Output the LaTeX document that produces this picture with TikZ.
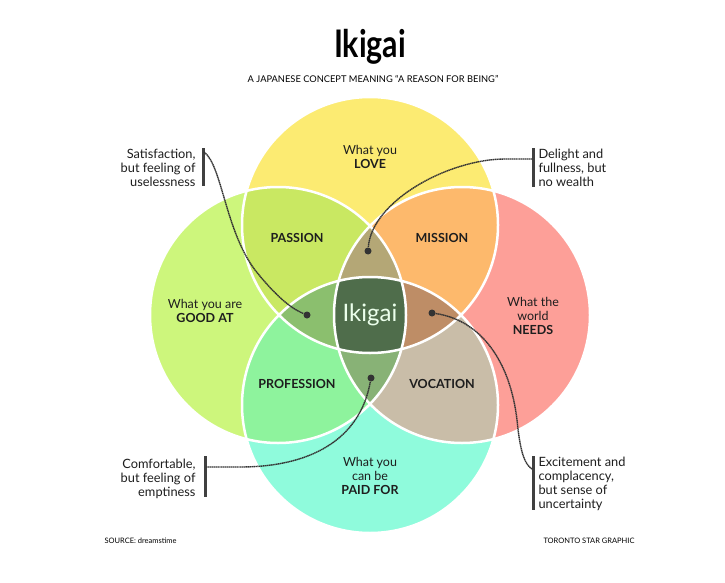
\documentclass[tikz,border=0pt]{standalone}
\usepackage{fontspec}
\setmainfont{Lato}
\newfontfamily\headfont[FakeStretch=0.8]{Lato}
\definecolor{cLove}{HTML}{FCEB72}
\definecolor{cGood}{HTML}{CDF67C}
\definecolor{cNeeds}{HTML}{FD9F98}
\definecolor{cPaid}{HTML}{8FFBDC}
\definecolor{cPassion}{HTML}{C9E862}
\definecolor{cMission}{HTML}{FDB96C}
\definecolor{cProfession}{HTML}{8EF39D}
\definecolor{cVocation}{HTML}{C9BDA8}
\definecolor{cUpper}{HTML}{B4A776}
\definecolor{cLeft}{HTML}{8BBF6E}
\definecolor{cRight}{HTML}{BE8D66}
\definecolor{cLower}{HTML}{88B276}
\definecolor{cCore}{HTML}{4F6D4B}
\definecolor{cInk}{HTML}{1E1E1E}
\def\rad{128pt}

\begin{document}
\begin{tikzpicture}[x=1pt, y=-1pt,
  ring/.style={draw=white, line width=2.5pt},
  goaltext/.style={align=center, font=\fontsize{12.5}{14}\selectfont, text=cInk},
  zone/.style={font=\fontsize{12.5}{14}\selectfont\bfseries, text=cInk},
  note/.style={font=\fontsize{12.8}{14}\selectfont, text=cInk},
  notebar/.style={draw=black!75, line width=3pt},
  leader/.style={draw=black!80, line width=1.4pt, dash pattern=on 1.4pt off 0.5pt},
  pindot/.style={circle, fill=black!80, inner sep=0pt, minimum size=7pt}]
  \fill[white] (0,0) rectangle (725,583);
  \useasboundingbox (0,0) rectangle (725,583);

  % circle centres
  \coordinate (ct) at (370,225);
  \coordinate (cl) at (278,315);
  \coordinate (cr) at (462,315);
  \coordinate (cb) at (370,405);

  \fill[cLove]  (ct) circle[radius=\rad];
  \fill[cGood]  (cl) circle[radius=\rad];
  \fill[cNeeds] (cr) circle[radius=\rad];
  \fill[cPaid]  (cb) circle[radius=\rad];

  % two circles
  \begin{scope}
    \clip (ct) circle[radius=\rad];
    \fill[cPassion] (cl) circle[radius=\rad];
    \fill[cMission] (cr) circle[radius=\rad];
  \end{scope}
  \begin{scope}
    \clip (cb) circle[radius=\rad];
    \fill[cProfession] (cl) circle[radius=\rad];
    \fill[cVocation]   (cr) circle[radius=\rad];
  \end{scope}

  % three circles
  \begin{scope}
    \clip (ct) circle[radius=\rad];
    \clip (cl) circle[radius=\rad];
    \fill[cUpper] (cr) circle[radius=\rad];
    \fill[cLeft]  (cb) circle[radius=\rad];
  \end{scope}
  \begin{scope}
    \clip (cb) circle[radius=\rad];
    \clip (cr) circle[radius=\rad];
    \fill[cRight] (ct) circle[radius=\rad];
    \fill[cLower] (cl) circle[radius=\rad];
  \end{scope}

  % four circles
  \begin{scope}
    \clip (ct) circle[radius=\rad];
    \clip (cl) circle[radius=\rad];
    \clip (cr) circle[radius=\rad];
    \fill[cCore] (cb) circle[radius=\rad];
  \end{scope}

  \draw[ring] (ct) circle[radius=\rad];
  \draw[ring] (cl) circle[radius=\rad];
  \draw[ring] (cr) circle[radius=\rad];
  \draw[ring] (cb) circle[radius=\rad];

  % titles
  \node (title) at (370,47) {\headfont\bfseries\fontsize{38}{40}\selectfont Ikigai};
  \node (subtitle) at (373,79) {\fontsize{9.3}{10}\selectfont A JAPANESE CONCEPT MEANING “A REASON FOR BEING”};

  % circle texts
  \node[goaltext] (love)  at (370,157) {What you\\\textbf{LOVE}};
  \node[goaltext] (good)  at (205,311) {What you are\\\textbf{GOOD AT}};
  \node[goaltext] (needs) at (533,316) {What the\\world\\\textbf{NEEDS}};
  \node[goaltext] (paid)  at (370,476) {What you\\can be\\\textbf{PAID FOR}};

  \node[zone] (passion)    at (297,238) {PASSION};
  \node[zone] (mission)    at (442,238) {MISSION};
  \node[zone] (profession) at (297,384) {PROFESSION};
  \node[zone] (vocation)   at (442,384) {VOCATION};
  \node[text=white!92!green, font=\fontsize{24}{26}\selectfont] (core) at (370,315) {Ikigai};

  % callouts
  \node[note, align=right, anchor=east] (satText) at (199,168) {Satisfaction,\\but feeling of\\uselessness};
  \node[note, align=left, anchor=west]  (delText) at (535,168) {Delight and\\fullness, but\\no wealth};
  \node[note, align=right, anchor=east] (comText) at (199,479) {Comfortable,\\but feeling of\\emptiness};
  \node[note, align=left, anchor=west]  (excText) at (535,484) {Excitement and\\complacency,\\but sense of\\uncertainty};

  \draw[notebar] (203,148) -- (203,186);
  \draw[notebar] (533,148) -- (533,187);
  \draw[notebar] (205,456) -- (205,497);
  \draw[notebar] (533,456) -- (533,510);

  \coordinate (satBar) at (204,152);
  \coordinate (delBar) at (532,159);
  \coordinate (comBar) at (206,467);
  \coordinate (excBar) at (532,469);

  \node[pindot] (dotLeft)  at (307,315) {};
  \node[pindot] (dotUp)    at (368,251) {};
  \node[pindot] (dotDown)  at (371,378) {};
  \node[pindot] (dotRight) at (432,313) {};

  \draw[leader] (satBar) .. controls (222,165) and (225,230) .. (255,270)
                         .. controls (275,295) and (290,308) .. (dotLeft);
  \draw[leader] (delBar) -- (505,159) .. controls (450,159) and (372,200) .. (dotUp);
  \draw[leader] (comBar) -- (240,467) .. controls (310,467) and (360,440) .. (dotDown);
  \draw[leader] (dotRight) .. controls (480,320) and (510,360) .. (517,420)
                           .. controls (520,450) and (524,464) .. (excBar);

  % sources
  \node[anchor=west, font=\fontsize{7.5}{8}\selectfont] (source) at (101,541) {SOURCE: dreamstime};
  \node[anchor=east, font=\fontsize{7.5}{8}\selectfont] (credit) at (638,541) {TORONTO STAR GRAPHIC};
\end{tikzpicture}
\end{document}
